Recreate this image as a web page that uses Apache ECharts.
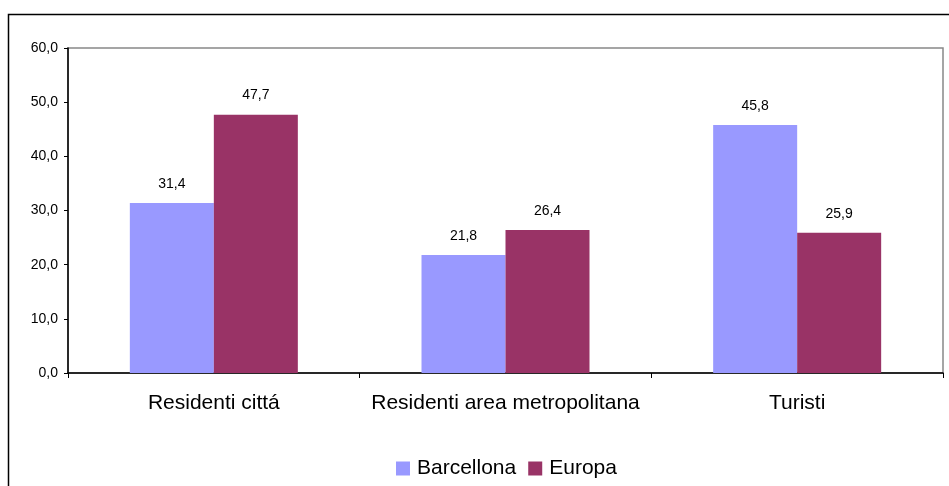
<!DOCTYPE html>
<html>
<head>
<meta charset="utf-8">
<script src="https://cdn.jsdelivr.net/npm/echarts@6/dist/echarts.min.js"></script>
<style>
  html, body { margin: 0; padding: 0; background: #fff; }
  #chart { width: 949px; height: 486px; }
</style>
</head>
<body>
<div id="chart"></div>
<script>
const categories = ['Residenti cittá', 'Residenti area metropolitana', 'Turisti']
const barcellona = [31.4, 21.8, 45.8]
const europa = [47.7, 26.4, 25.9]
const seriesNames = ['Barcellona', 'Europa']

const fmt = v => v.toFixed(1).replace('.', ',')
const font = 'Liberation Sans, Arial, sans-serif'

const chartObj = echarts.init(document.getElementById('chart'))
const chartOption = {
  animation: false,
  color: ['#9999FF', '#993366'],
  textStyle: { fontFamily: font },
  // outer frame of the chart
  graphic: [{
    type: 'rect',
    shape: { x: 8.5, y: 14.5, width: 1000, height: 600 },
    style: { fill: 'none', stroke: '#000', lineWidth: 1.5 },
    silent: true
  }],
  grid: {
    left: 68,
    right: 6,
    top: 48,
    bottom: 113,
    show: true,
    borderColor: '#888',
    borderWidth: 1.5
  },
  legend: {
    bottom: 2,
    left: 391,
    itemWidth: 14,
    itemHeight: 14,
    itemGap: 12,
    icon: 'rect',
    textStyle: { fontSize: 21, color: '#000', fontFamily: font, padding: [0, 0, 0, 2] },
    data: seriesNames
  },
  xAxis: [{
    type: 'category',
    data: categories,
    axisLine: { lineStyle: { color: '#000', width: 1.5 } },
    axisTick: { show: true, interval: 0, length: 5, lineStyle: { color: '#000' } },
    axisLabel: { interval: 0, fontSize: 21, color: '#000', margin: 20 },
    splitLine: { show: false }
  }],
  yAxis: [{
    type: 'value',
    min: 0,
    max: 60,
    interval: 10,
    axisLine: { show: true, lineStyle: { color: '#000', width: 1.5 } },
    axisTick: { show: true, length: 4, lineStyle: { color: '#000' } },
    axisLabel: { fontSize: 14, color: '#000', margin: 10, formatter: fmt },
    splitLine: { show: false }
  }],
  series: [
    {
      name: seriesNames[0],
      type: 'bar',
      data: barcellona,
      barWidth: 84,
      barGap: '0',
      label: { show: true, position: 'top', distance: 12, fontSize: 14, color: '#000', formatter: p => fmt(p.value) }
    },
    {
      name: seriesNames[1],
      type: 'bar',
      data: europa,
      barWidth: 84,
      barGap: '0',
      label: { show: true, position: 'top', distance: 12, fontSize: 14, color: '#000', formatter: p => fmt(p.value) }
    }
  ]
}
chartObj.setOption(chartOption, true)
</script>
</body>
</html>
